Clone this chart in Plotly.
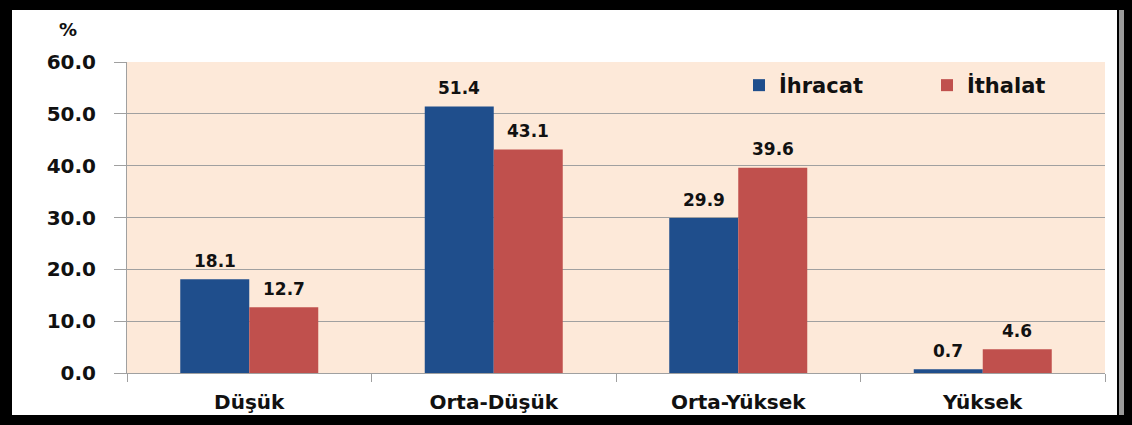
import plotly.graph_objects as go

categories = ["Düşük", "Orta-Düşük", "Orta-Yüksek", "Yüksek"]
ihracat = [18.1, 51.4, 29.9, 0.7]
ithalat = [12.7, 43.1, 39.6, 4.6]
series_names = ["İhracat", "İthalat"]
y_ticks = [0, 10, 20, 30, 40, 50, 60]
y_ticklabels = ["0.0", "10.0", "20.0", "30.0", "40.0", "50.0", "60.0"]

BLUE = "#1F4E8C"
RED = "#C0504D"
PEACH = "#FDE9D9"
GRID = "#A0A0A0"
FONT = "DejaVu Sans"

W, H = 1132, 425
L, R, T, B = 127, 27, 62, 52

fig = go.Figure()
fig.add_bar(x=categories, y=ihracat, name=series_names[0], marker_color=BLUE, marker_line_width=0)
fig.add_bar(x=categories, y=ithalat, name=series_names[1], marker_color=RED, marker_line_width=0)

pw = W - L - R
ph = H - T - B
cat_w = pw / len(categories)
bargap = 0.4356
bar_w = cat_w * (1 - bargap) / 2

def px2x(px):
    return (px - L) / pw

def py2y(py):
    return 1 - (py - T) / ph

# data labels
for vals, sh in ((ihracat, -bar_w / 2), (ithalat, bar_w / 2)):
    for c, v in zip(categories, vals):
        fig.add_annotation(x=c, y=v, text=f"<b>{v:.1f}</b>", showarrow=False,
                           xshift=sh, yshift=18.5, yanchor="middle", xanchor="center",
                           font=dict(family=FONT, size=17, color="#111111"))

# "%" label
fig.add_annotation(xref="paper", yref="paper", x=px2x(68), y=py2y(30),
                   text="<b>%</b>", showarrow=False, xanchor="center", yanchor="middle",
                   font=dict(family=FONT, size=18, color="#111111"))

# black frame
frame = [
    (0, 0, W, 10, "black"),
    (0, 415, W, H, "black"),
    (0, 0, 12, H, "black"),
    (1117, 0, 1119, H, "black"),
    (1119, 10, 1124, 415, "#9A9A9A"),
    (1124, 0, W, H, "black"),
]
for x0, y0, x1, y1, col in frame:
    fig.add_shape(type="rect", xref="paper", yref="paper",
                  x0=px2x(x0), x1=px2x(x1), y0=py2y(y1), y1=py2y(y0),
                  fillcolor=col, line_width=0, layer="above")

fig.update_layout(
    width=W, height=H,
    margin=dict(l=L, r=R, t=T, b=B, autoexpand=False),
    paper_bgcolor="white",
    plot_bgcolor=PEACH,
    barmode="group",
    bargap=bargap,
    bargroupgap=0,
    font=dict(family=FONT, color="#111111"),
    legend=dict(orientation="h", x=px2x(739), y=py2y(65), xanchor="left", yanchor="top",
                bgcolor="rgba(0,0,0,0)", font=dict(family=FONT, size=21, color="#111111", weight="bold"),
                entrywidth=143, entrywidthmode="pixels", itemsizing="constant"),
    showlegend=True,
)
fig.update_yaxes(range=[0, 60], tickvals=y_ticks, ticktext=y_ticklabels,
                 showgrid=True, gridcolor=GRID, gridwidth=1,
                 showline=True, linecolor=GRID, linewidth=1,
                 ticks="outside", ticklen=12, tickcolor=GRID,
                 ticklabelstandoff=14, zeroline=False,
                 tickfont=dict(family=FONT, size=20, color="#111111", weight="bold"))
fig.update_xaxes(showline=True, linecolor=GRID, linewidth=1,
                 ticks="outside", ticklen=8, tickcolor=GRID, tickson="boundaries",
                 showgrid=False, ticklabelstandoff=11,
                 tickfont=dict(family=FONT, size=20, color="#111111", weight="bold"))

fig.write_html("out.html", config={"displayModeBar": False},
               post_script="document.body.style.margin='0';document.body.style.overflow='hidden';")
